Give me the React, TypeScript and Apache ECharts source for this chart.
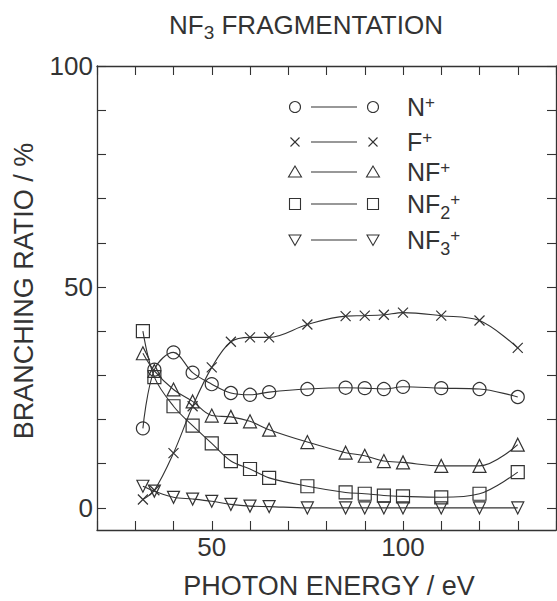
import React, { useEffect, useRef } from "react";
import * as echarts from "echarts";

// Photon energies (eV) at which branching ratios were measured
const energies = [32, 35, 40, 45, 50, 55, 60, 65, 75, 85, 90, 95, 100, 110, 120, 130];

// Branching ratios (%) per fragment ion
const nPlus = [18.0, 31.3, 35.2, 30.6, 28.0, 26.0, 25.6, 26.2, 26.9, 27.2, 27.1, 26.9, 27.4, 27.1, 26.9, 25.1];
const fPlus = [1.9, 4.0, 12.4, 23.0, 31.8, 37.6, 38.6, 38.6, 41.5, 43.4, 43.5, 43.7, 44.2, 43.5, 42.4, 36.2];
const nfPlus = [35.0, 31.0, 26.8, 24.1, 20.9, 20.6, 19.6, 17.7, 14.9, 12.5, 11.8, 10.6, 10.3, 9.5, 9.5, 14.3];
const nf2Plus = [40.0, 29.6, 23.0, 18.6, 14.6, 10.6, 8.8, 6.8, 4.9, 3.5, 3.2, 2.8, 2.6, 2.4, 3.2, 8.1];
const nf3Plus = [4.9, 3.8, 2.4, 2.0, 1.5, 0.8, 0.4, 0.3, 0.0, 0.0, 0.0, 0.0, 0.0, 0.0, 0.0, 0.0];

// Axis ticks and labels
const xLabelValues = [50, 100];
const yTickValues = [0, 10, 20, 30, 40, 50, 60, 70, 80, 90, 100];
const yLabelValues = [0, 50, 100];

const INK = "#333";
const FONT = '"Liberation Sans", Arial, Helvetica, sans-serif';
const CROSS = "path://M0,0L10,10M10,0L0,10";

type Kind = "circle" | "cross" | "triangle" | "square" | "down";

const seriesDefs: { name: string; label: string; kind: Kind; values: number[] }[] = [
  { name: "N+", label: "N{sup|+}", kind: "circle", values: nPlus },
  { name: "F+", label: "F{sup|+}", kind: "cross", values: fPlus },
  { name: "NF+", label: "NF{sup|+}", kind: "triangle", values: nfPlus },
  { name: "NF2+", label: "NF{sub|2}{sup|+}", kind: "square", values: nf2Plus },
  { name: "NF3+", label: "NF{sub|3}{sup|+}", kind: "down", values: nf3Plus },
];

const legendRowY = [107, 142, 172, 204, 240];

function symbolFor(kind: Kind) {
  switch (kind) {
    case "circle":
      return { symbol: "circle", symbolSize: 13, symbolRotate: 0 };
    case "cross":
      return { symbol: CROSS, symbolSize: 10, symbolRotate: 0 };
    case "triangle":
      return { symbol: "triangle", symbolSize: 13, symbolRotate: 0 };
    case "square":
      return { symbol: "rect", symbolSize: 13, symbolRotate: 0 };
    default:
      return { symbol: "triangle", symbolSize: 12, symbolRotate: 180 };
  }
}

function legendGlyph(kind: Kind, x: number, y: number): any[] {
  const st = { fill: "none", stroke: INK, lineWidth: 1.1 };
  switch (kind) {
    case "circle":
      return [{ type: "circle", shape: { cx: x, cy: y, r: 5.5 }, style: st }];
    case "cross":
      return [
        { type: "line", shape: { x1: x - 4.5, y1: y - 4.5, x2: x + 4.5, y2: y + 4.5 }, style: st },
        { type: "line", shape: { x1: x + 4.5, y1: y - 4.5, x2: x - 4.5, y2: y + 4.5 }, style: st },
      ];
    case "triangle":
      return [{ type: "polygon", shape: { points: [[x, y - 6], [x - 6.5, y + 5], [x + 6.5, y + 5]] }, style: st }];
    case "square":
      return [{ type: "rect", shape: { x: x - 5.5, y: y - 5.5, width: 11, height: 11 }, style: st }];
    default:
      return [{ type: "polygon", shape: { points: [[x - 6, y - 5], [x + 6, y - 5], [x, y + 5.5]] }, style: st }];
  }
}

// Text with raised "+" and lowered digits: the small tokens are pinned to the
// top or bottom of the line box and nudged inwards with padding.
const LINE = 36;
function scripts(supSize: number, subSize: number, supPadTop: number, subPadBottom: number) {
  return {
    sup: { fontSize: supSize, fontFamily: FONT, fill: INK, color: INK, verticalAlign: "top", padding: [supPadTop, 0, 0, 0] },
    sub: { fontSize: subSize, fontFamily: FONT, fill: INK, color: INK, verticalAlign: "bottom", padding: [0, 0, subPadBottom, 0] },
  };
}

function textEl(text: string, x: number, y: number, size: number, opts: any = {}) {
  const align = opts.align || "center";
  return {
    type: "text",
    x,
    y,
    rotation: opts.rotation || 0,
    style: {
      text,
      fill: INK,
      fontSize: size,
      fontFamily: FONT,
      align,
      textAlign: align,
      verticalAlign: "middle",
      textVerticalAlign: "middle",
      lineHeight: LINE,
      rich: opts.rich || {},
    },
  };
}

export default function App() {
  const ref = useRef<HTMLDivElement>(null);

  useEffect(() => {
    if (!ref.current) return;
    const chart = echarts.init(ref.current, undefined, { renderer: "svg" });

    const legendRich = scripts(17, 18, 5, 0);
    const legendEls: any[] = [];
    seriesDefs.forEach((d, i) => {
      const y = legendRowY[i];
      legendEls.push(...legendGlyph(d.kind, 295, y));
      legendEls.push({ type: "line", shape: { x1: 311, y1: y, x2: 357, y2: y }, style: { stroke: INK, lineWidth: 1.1 } });
      legendEls.push(...legendGlyph(d.kind, 373, y));
      legendEls.push(textEl(d.label, 407, y, 25, { align: "left", rich: legendRich }));
    });

    const axisLine = { show: true, onZero: false, lineStyle: { color: INK, width: 1.3 } };
    const tick = { show: true, inside: true, length: 9, lineStyle: { color: INK, width: 1.1 } };

    chart.setOption({
      animation: false,
      backgroundColor: "#fff",
      grid: { left: 97, right: 1, top: 66, bottom: 71, containLabel: false },
      xAxis: [
        {
          type: "value",
          min: 20,
          max: 140,
          interval: 10,
          axisLine,
          axisTick: tick,
          splitLine: { show: false },
          axisLabel: {
            customValues: xLabelValues,
            fontSize: 26,
            fontFamily: FONT,
            color: INK,
            margin: 4,
          },
        },
        {
          type: "value",
          position: "top",
          min: 20,
          max: 140,
          interval: 10,
          axisLine,
          axisTick: tick,
          splitLine: { show: false },
          axisLabel: { show: false },
        },
      ],
      yAxis: [
        {
          type: "value",
          min: -5,
          max: 100,
          axisLine,
          axisTick: { ...tick, customValues: yTickValues },
          splitLine: { show: false },
          axisLabel: {
            customValues: yLabelValues,
            fontSize: 26,
            fontFamily: FONT,
            color: INK,
            margin: 4,
          },
        },
        {
          type: "value",
          position: "right",
          min: -5,
          max: 100,
          axisLine,
          axisTick: { ...tick, customValues: yTickValues },
          splitLine: { show: false },
          axisLabel: { show: false },
        },
      ],
      series: seriesDefs.map((d) => ({
        name: d.name,
        type: "line",
        xAxisIndex: 0,
        yAxisIndex: 0,
        data: energies.map((e, i) => [e, d.values[i]]),
        smooth: 0.35,
        ...symbolFor(d.kind),
        showAllSymbol: true,
        lineStyle: { color: INK, width: 1.1 },
        itemStyle: { color: "transparent", borderColor: INK, borderWidth: 1.2 },
        emphasis: { disabled: true },
        z: 2,
      })),
      graphic: [
        textEl("NF{sub|3} FRAGMENTATION", 306, 25, 26, { rich: scripts(17, 19, 5, 1) }),
        textEl("PHOTON ENERGY / eV", 329, 586, 27),
        textEl("BRANCHING RATIO / %", 24, 291, 27, { rotation: Math.PI / 2 }),
        ...legendEls,
      ],
    });

    return () => chart.dispose();
  }, []);

  return (
    <div
      ref={ref}
      style={{ position: "fixed", left: 0, top: 0, width: 557, height: 601, background: "#fff" }}
    />
  );
}
